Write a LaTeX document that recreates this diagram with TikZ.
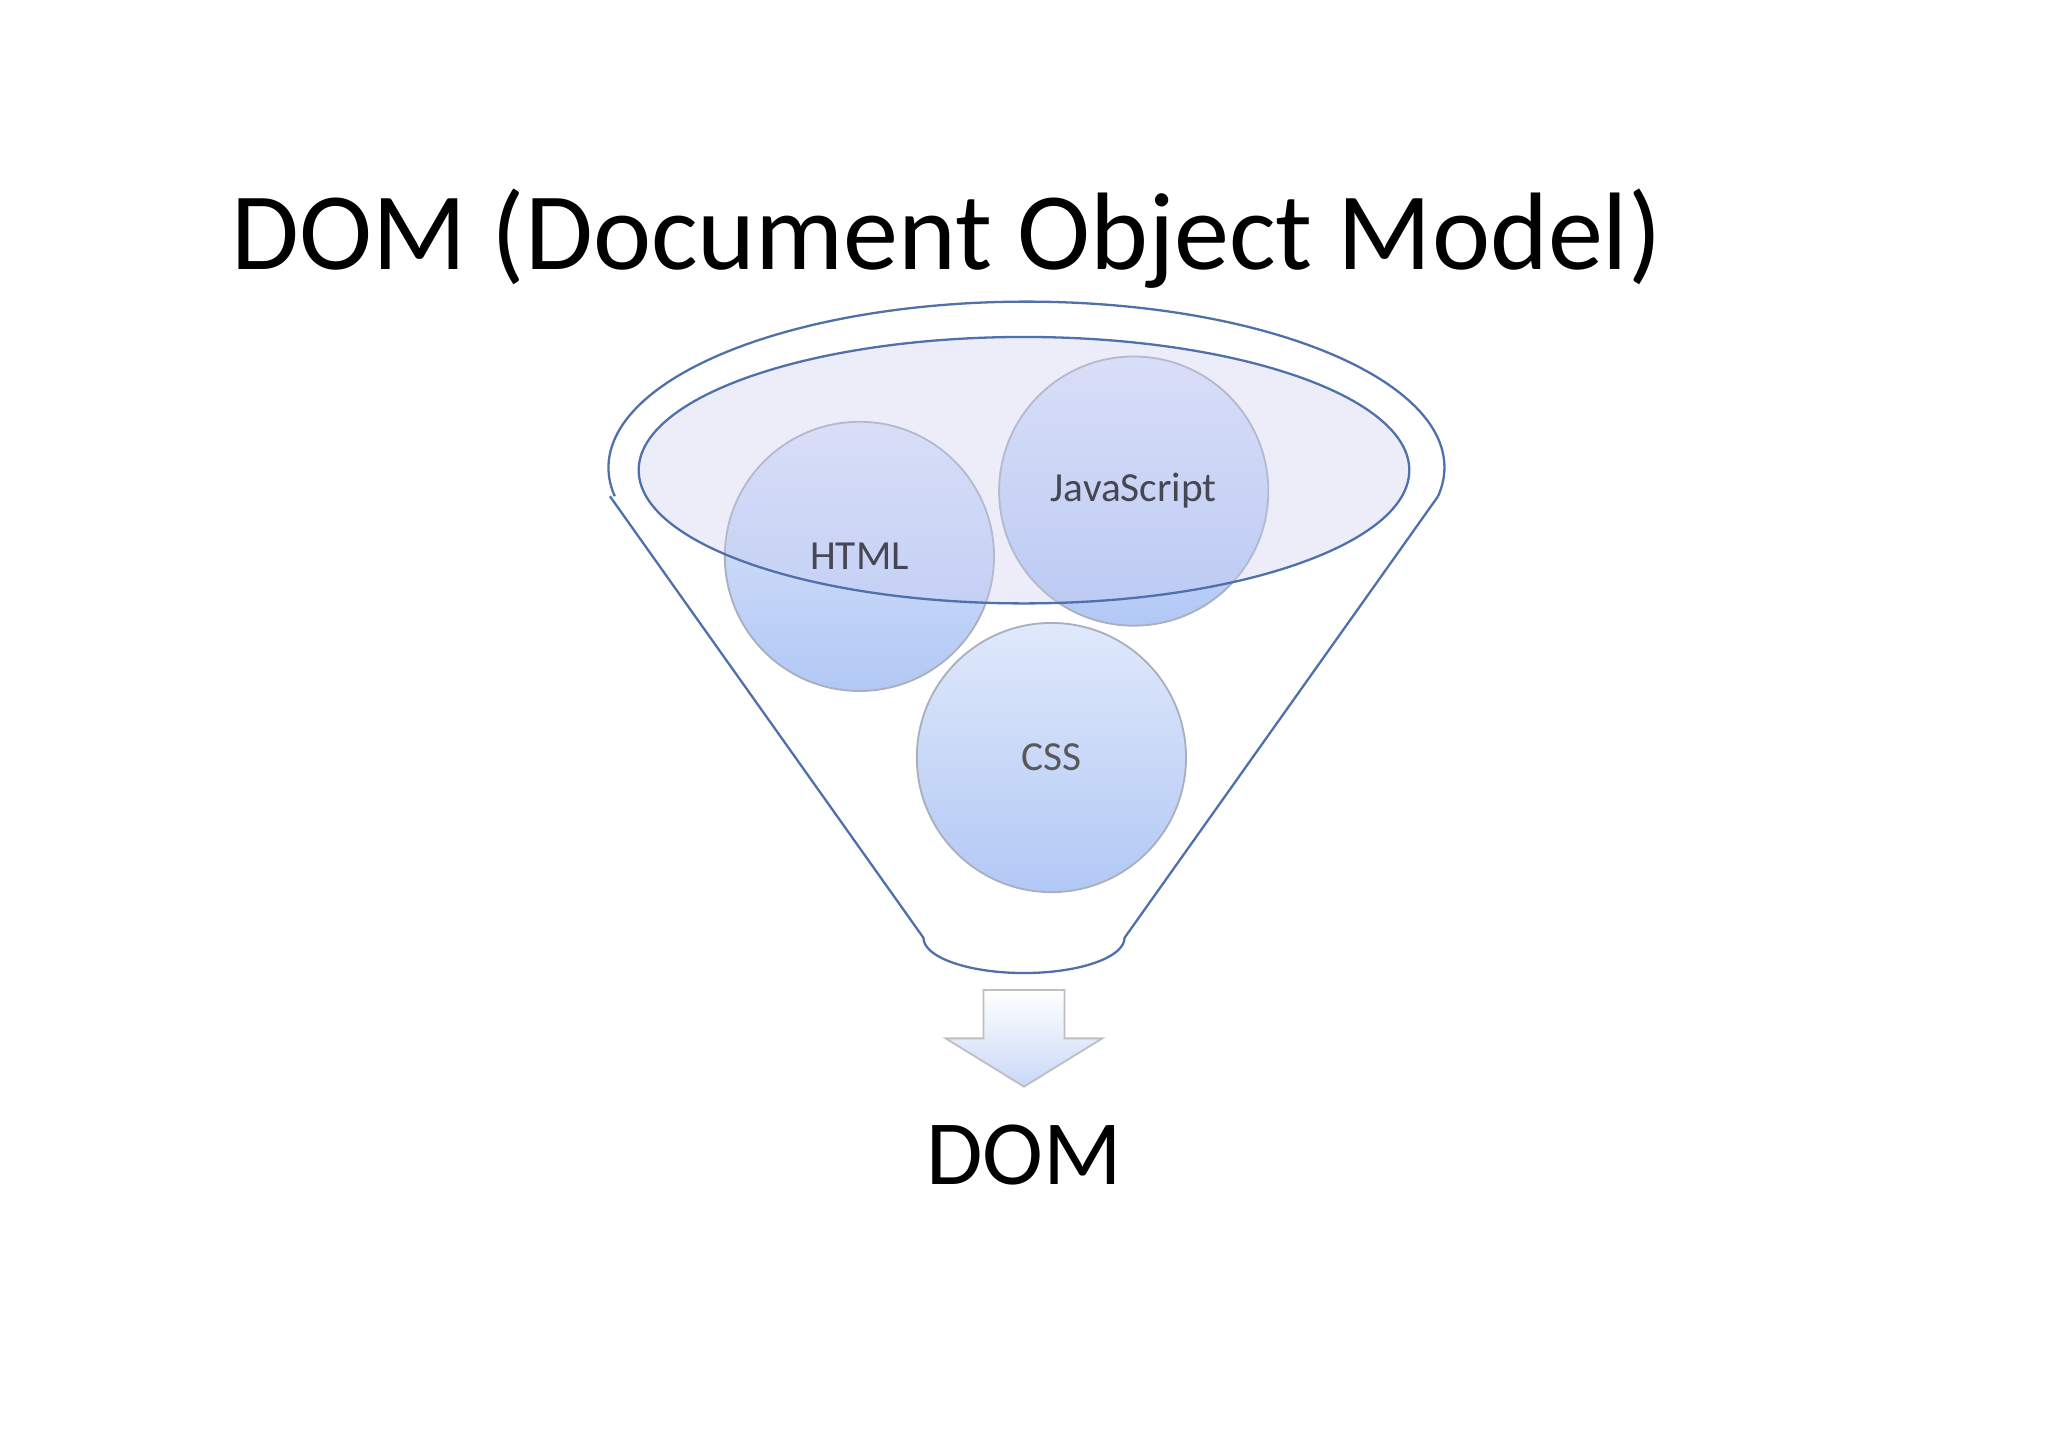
\documentclass[tikz,border=0pt]{standalone}
\usepackage{fontspec}
\setmainfont{Carlito}
\usetikzlibrary{positioning}

\definecolor{funnelline}{RGB}{79,112,170}
\definecolor{ballfill}{RGB}{178,200,245}
\definecolor{ballrim}{RGB}{170,175,190}

\begin{document}
\begin{tikzpicture}[x=0.01cm, y=-0.01cm,
    ball/.style={circle, draw=ballrim, minimum size=2.06cm, inner sep=0pt,
                 top color=white!60!ballfill, bottom color=ballfill, font=\fontsize{9}{11}\selectfont},
    funnel/.style={draw=funnelline, line width=0.5pt}]
  \useasboundingbox (0,0) rectangle (1568,1107);

  \node (title) at (725,183) {\fontsize{24}{28}\selectfont DOM (Document Object Model)};

  % funnel body
  \coordinate (tl) at (467,380);
  \coordinate (tr) at (1101,380);
  \coordinate (bl) at (707,718);
  \coordinate (br) at (861,718);
  \draw[funnel] (tl) -- (bl) arc[start angle=180, end angle=360, x radius=77, y radius=-27] -- (tr);
  \draw[funnel] (tr) arc[start angle=-10, end angle=190, x radius=320, y radius=-127];

  \node[ball] (html) at (658,426) {HTML};
  \node[ball] (js)   at (868,376) {JavaScript};
  \node[ball, text=black!65] (css) at (805,580) {CSS};

  % inner rim
  \draw[funnel, fill=gray!40!blue!25, fill opacity=0.35] (784,360) ellipse [x radius=295, y radius=102];

  % output arrow
  \draw[draw=gray!50, top color=white, bottom color=ballfill!70]
    (753,758) -- (815,758) -- (815,795) -- (844,795) -- (784,832) -- (724,795) -- (753,795) -- cycle;

  \node (dom) at (784,884) {\fontsize{20}{24}\selectfont DOM};
\end{tikzpicture}
\end{document}
